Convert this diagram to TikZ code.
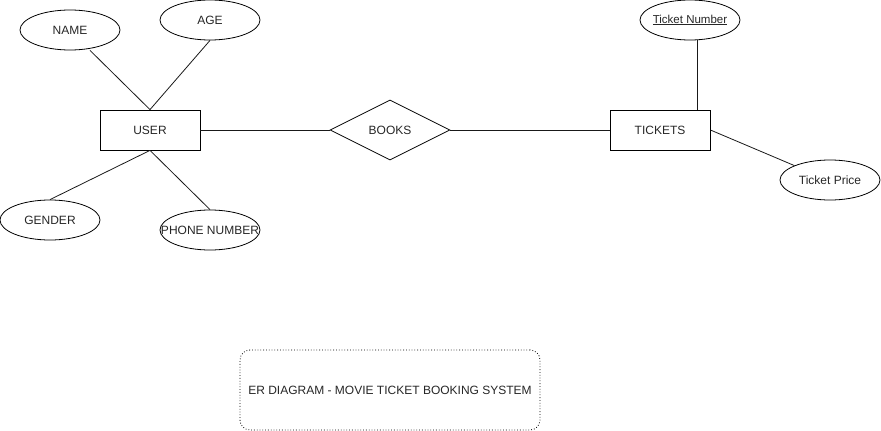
\documentclass[tikz,border=0pt]{standalone}
\usepackage{fontspec}
\setmainfont{Liberation Sans}
\usepackage{tikz}
\usetikzlibrary{shapes.geometric,positioning}

\newcommand{\attrtext}[1]{\makebox[60pt]{#1}}

\begin{document}
\begin{tikzpicture}[x=1pt, y=-1pt, every node/.style={font=\fontsize{12}{14}\selectfont, text=black!85}, line width=0.8pt, attr/.style={draw, ellipse, inner sep=0pt, minimum width=100pt, minimum height=40pt}, entity/.style={draw, rectangle, inner sep=0pt, minimum width=100pt, minimum height=40pt}, rel/.style={draw, diamond, inner sep=0pt, minimum width=120pt, minimum height=60pt}, link/.style={draw=black!90, line width=0.8pt}]
\useasboundingbox (0,0) rectangle (881,431);
\node[entity] (user) at (150,130) {USER};
\node[rel] (books) at (390,130) {BOOKS};
\node[entity] (tickets) at (660,130) {TICKETS};
\node[attr] (name) at (70,30) {\attrtext{NAME}};
\node[attr] (age) at (210,20) {\attrtext{AGE}};
\node[attr] (gender) at (50,220) {\attrtext{GENDER}};
\node[attr] (phone) at (210,230) {\attrtext{PHONE NUMBER}};
\node[attr] (tnum) at (690,20) {\attrtext{\fontsize{11.5}{14}\selectfont\underline{Ticket Number}}};
\node[attr] (tprice) at (830,180) {\attrtext{Ticket Price}};
\draw[link] (user) -- (books);
\draw[link] (books) -- (tickets);
\coordinate (nm) at ([xshift=20pt]name.south);
\draw[link] (nm) -- (user.north);
\draw[link] (age.south) -- (user.north);
\draw[link] (gender.north) -- (user.south);
\draw[link] (phone.north) -- (user.south);
\coordinate (tn) at ([xshift=7pt]tnum.south);
\draw[link] (tn) -- (tn |- tickets.north);
\draw[link] (tickets.east) -- (tprice.north west);
\node[draw, dotted, rounded corners=10pt, minimum width=300pt, minimum height=80pt] (title) at (390,390) {ER DIAGRAM - MOVIE TICKET BOOKING SYSTEM};
\end{tikzpicture}
\end{document}
